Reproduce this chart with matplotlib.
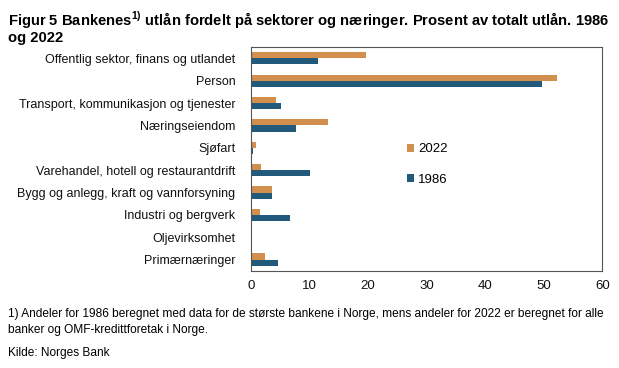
import numpy as np
import matplotlib.pyplot as plt

plt.rcParams['font.family'] = ['Liberation Sans', 'DejaVu Sans']
plt.rcParams['mathtext.fontset'] = 'custom'
plt.rcParams['mathtext.rm'] = 'Liberation Sans'
plt.rcParams['mathtext.bf'] = 'Liberation Sans:bold'

kategorier = ['Offentlig sektor, finans og utlandet', 'Person',
              'Transport, kommunikasjon og tjenester', 'Næringseiendom',
              'Sjøfart', 'Varehandel, hotell og restaurantdrift',
              'Bygg og anlegg, kraft og vannforsyning', 'Industri og bergverk',
              'Oljevirksomhet', 'Primærnæringer']
verdier_2022 = [19.7, 52.2, 4.3, 13.2, 0.85, 1.7, 3.6, 1.6, 0.05, 2.5]
verdier_1986 = [11.5, 49.7, 5.2, 7.8, 0.35, 10.2, 3.6, 6.7, 0.2, 4.6]

orange = '#D28F4D'
blaa = '#215A7A'

fig = plt.figure(figsize=(6.19, 3.68), dpi=100)
ax = fig.add_axes([0.405, 0.2644, 0.568, 0.6071])

y = np.arange(len(kategorier))
h = 0.27
ax.barh(y - h / 2, verdier_2022, height=h, color=orange, label='2022')
ax.barh(y + h / 2, verdier_1986, height=h, color=blaa, label='1986')

ax.set_ylim(len(kategorier) - 0.5, -0.5)
ax.set_xlim(0, 60)
ax.set_xticks(np.arange(0, 61, 10))
ax.set_yticks(y)
ax.set_yticklabels(kategorier)
ax.tick_params(axis='both', length=0, labelsize=9, colors='#111111')
ax.tick_params(axis='x', labelsize=9.5, pad=7)
ax.tick_params(axis='y', pad=11)
for s in ax.spines.values():
    s.set_color('#555555')
    s.set_linewidth(0.8)

ax.legend(loc='center left', bbox_to_anchor=(0.41, 0.475), frameon=False,
          fontsize=9.5, handlelength=0.55, handleheight=0.55, handletextpad=0.3,
          labelspacing=1.4)

fig.text(0.013, 0.975, r'Figur 5 Bankenes$^{\mathbf{1)}}$ utlån fordelt på sektorer og næringer. Prosent av totalt utlån. 1986' + '\nog 2022',
         fontsize=10.6, fontweight='bold', va='top', ha='left', linespacing=1.0)
fig.text(0.013, 0.162, '1) Andeler for 1986 beregnet med data for de største bankene i Norge, mens andeler for 2022 er beregnet for alle\nbanker og OMF-kredittforetak i Norge.',
         fontsize=8.6, va='top', ha='left', linespacing=1.45)
fig.text(0.013, 0.058, 'Kilde: Norges Bank', fontsize=8.6, va='top', ha='left')

fig.savefig('out.png', dpi=100)
